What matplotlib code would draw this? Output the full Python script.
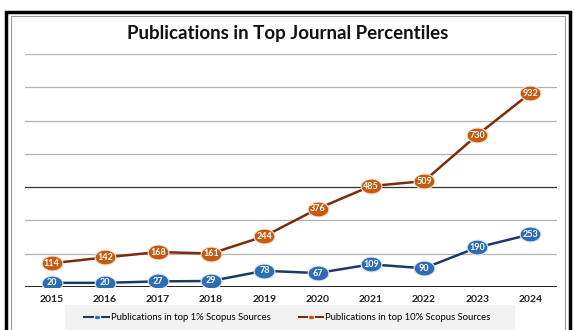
import numpy as np
import matplotlib
matplotlib.use("Agg")
import matplotlib.pyplot as plt
from matplotlib.patches import Rectangle
from matplotlib.path import Path

years = ["2015", "2016", "2017", "2018", "2019", "2020", "2021", "2022", "2023", "2024"]
top1 = [20, 20, 27, 29, 78, 67, 109, 90, 190, 253]
top10 = [114, 142, 168, 161, 244, 376, 485, 509, 730, 932]
grid_vals = [160, 320, 480, 640, 800, 960, 1120]

plt.rcParams['font.family'] = ['Lato', 'DejaVu Sans']

# wide ellipse marker, like the Excel data-label bubbles
t = np.linspace(0, 2 * np.pi, 60)
ellipse = Path(np.column_stack([1.4 * np.cos(t), np.sin(t)]), closed=True)

fig = plt.figure(figsize=(5.75, 3.3), dpi=100)
fig.patch.set_facecolor('white')

# outer frame
fig.patches.append(Rectangle((6 / 575, -0.05), 564 / 575, (330 - 12) / 330 + 0.05,
                             transform=fig.transFigure, fill=False, ec='black', lw=2.5))
fig.patches.append(Rectangle((11 / 575, -0.05), 554 / 575, (330 - 16) / 330 + 0.05,
                             transform=fig.transFigure, fill=False, ec='#9a9a9a', lw=0.8))

fig.text(0.5, 1 - 33 / 330, "Publications in Top Journal Percentiles", ha='center', va='center',
         fontsize=13.5, fontweight='bold', color='#111111')

ax = fig.add_axes([25 / 575, 43 / 330, 532 / 575, 233 / 330])
x = np.arange(len(years))
ax.set_xlim(-0.5, len(years) - 0.5)
ax.set_ylim(0, 1120)

for v in grid_vals:
    c = '#333333' if v == 480 else '#b0b0b0'
    ax.axhline(v, color=c, lw=0.9, zorder=0)
ax.axhline(0, color='#111111', lw=1.3, zorder=1)

ax.plot(x, top1, color='#1f3864', lw=1.8, marker=ellipse, ms=15,
        mfc='#2e6db4', mec='#dfe8f3', mew=0.8, zorder=3,
        label='Publications in top 1% Scopus Sources')
ax.plot(x, top10, color='#7b2c0a', lw=1.8, marker=ellipse, ms=15,
        mfc='#c55a11', mec='#f3e0d0', mew=0.8, zorder=3,
        label='Publications in top 10% Scopus Sources')

for xi, v in zip(x, top1):
    ax.text(xi, v, str(v), ha='center', va='center', color='white',
            fontsize=6.5, fontweight='bold', zorder=4)
for xi, v in zip(x, top10):
    ax.text(xi, v, str(v), ha='center', va='center', color='white',
            fontsize=6.5, fontweight='bold', zorder=4)

for s in ax.spines.values():
    s.set_visible(False)
ax.set_yticks([])
ax.set_xticks(x)
ax.set_xticklabels(years, fontsize=7.5, fontweight='bold', color='#222222')
ax.tick_params(axis='x', length=0, pad=6)
ax.patch.set_alpha(0)

# legend area
fig.patches.append(Rectangle((65 / 575, 0), 450 / 575, 25 / 330, transform=fig.transFigure,
                             fc='#f2f2f2', ec='none', zorder=0))
leg = fig.legend(loc='center', bbox_to_anchor=(0.5, 1 - 318 / 330), ncol=2, frameon=False,
                 fontsize=6.8, handlelength=2.6, columnspacing=3.0, markerscale=0.3,
                 handletextpad=0.2)
for h in leg.legend_handles:
    h.set_linewidth(1.5)

fig.savefig('out.png', dpi=100)
